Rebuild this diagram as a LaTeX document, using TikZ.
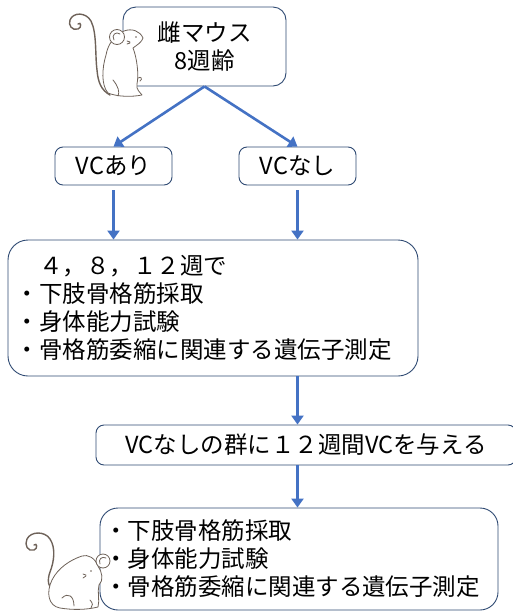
\documentclass[tikz,border=0pt]{standalone}
\usepackage{fontspec}
\setmainfont{Noto Sans CJK JP}
\usepackage{tikz}
\usetikzlibrary{positioning,arrows.meta}
\definecolor{flowblue}{HTML}{4472C4}
\definecolor{boxline}{HTML}{2F4A73}
\definecolor{mouseline}{HTML}{6E6259}
\newcommand\flowfont{\fontsize{23.5}{28}\selectfont}

\begin{document}
\begin{tikzpicture}[x=1pt, y=-1pt,
    stepbox/.style={draw=boxline, line width=0.9pt, fill=white, font=\flowfont, inner sep=0pt},
    flow/.style={draw=flowblue, line width=2.6pt, -{Triangle[length=9pt, width=12pt]}},
    sketch/.style={draw=mouseline, line width=0.8pt, fill=white, line join=round, line cap=round}]
    \useasboundingbox (0,0) rectangle (512,611);

    % boxes
    \node[stepbox, rounded corners=13pt, minimum width=163pt, minimum height=79pt, align=center] (mouse) at (204.5,46.5) {雌マウス\\8週齢};
    \node[stepbox, rounded corners=8pt, minimum width=117pt, minimum height=38pt] (ari) at (113.5,166) {VCあり};
    \node[stepbox, rounded corners=8pt, minimum width=117pt, minimum height=38pt] (nashi) at (297.5,166) {VCなし};
    \node[stepbox, rounded corners=20pt, minimum width=410pt, minimum height=136pt, inner xsep=8pt, text width=394pt, align=left] (test1) at (213,308)
        {　４，８，１２週で\\・下肢骨格筋採取\\・身体能力試験\\・骨格筋委縮に関連する遺伝子測定};
    \node[stepbox, rounded corners=8pt, minimum width=420pt, minimum height=40pt] (give) at (306,445) {VCなしの群に１２週間VCを与える};
    \node[stepbox, rounded corners=18pt, minimum width=398pt, minimum height=102pt, inner xsep=4pt, text width=390pt, align=left] (test2) at (299,559)
        {・下肢骨格筋採取\\・身体能力試験\\・骨格筋委縮に関連する遺伝子測定};

    % arrows
    \draw[flow] (mouse.south) -- (ari.north);
    \draw[flow] (mouse.south) -- (nashi.north);
    \draw[flow, shorten <=5pt] (ari.south) -- (ari.south |- test1.north);
    \draw[flow, shorten <=5pt] (nashi.south) -- (nashi.south |- test1.north);
    \draw[flow] (nashi.south |- test1.south) -- (nashi.south |- give.north);
    \draw[flow] (nashi.south |- give.south) -- (nashi.south |- test2.north);

    % sitting mouse
    \draw[mouseline, line width=1.4pt, line cap=round]
        (78,24) .. controls (81,21) and (82,28) .. (78,29)
        .. controls (72,31) and (68,25) .. (70,20)
        .. controls (73,12) and (86,12) .. (91,21)
        .. controls (97,33) and (95,55) .. (97,70)
        .. controls (98,82) and (101,90) .. (110,95);
    \filldraw[sketch] (143,38) .. controls (140,31) and (132,28) .. (124,31)
        .. controls (114,36) and (108,44) .. (106,55)
        .. controls (102,68) and (101,85) .. (108,93)
        .. controls (118,97) and (132,97) .. (142,95)
        .. controls (140,92) and (136,90) .. (137,84)
        .. controls (139,75) and (137,58) .. (133,48)
        .. controls (137,45) and (142,42) .. (143,38);
    \filldraw[sketch] (117,37) circle (7.5);
    \draw[sketch, fill=none] (114,40) .. controls (111,35) and (116,31) .. (120,34);
    \fill[mouseline] (136,37) circle (0.9);
    \draw[sketch, fill=none] (130,42) -- (127,41) (130,43) -- (127,44);
    \draw[sketch, fill=none] (138,78) .. controls (141,76) and (143,79) .. (140,81);
    \draw[sketch, fill=none] (113,80) .. controls (118,86) and (120,92) .. (118,96);

    % crouching mouse
    \draw[mouseline, line width=1.4pt, line cap=round]
        (34,545) .. controls (37,542) and (38,549) .. (34,550)
        .. controls (28,552) and (24,545) .. (27,539)
        .. controls (31,531) and (45,531) .. (50,539)
        .. controls (56,548) and (54,562) .. (50,572)
        .. controls (47,580) and (48,588) .. (54,591);
    \filldraw[sketch] (82,556) .. controls (70,560) and (58,568) .. (52,580)
        .. controls (46,592) and (48,606) .. (60,608)
        .. controls (72,610) and (86,610) .. (98,607)
        .. controls (100,600) and (97,592) .. (99,585)
        .. controls (104,580) and (102,572) .. (98,566)
        .. controls (95,558) and (88,554) .. (82,556);
    \filldraw[sketch] (103,561) circle (7);
    \draw[sketch, fill=none] (100,564) .. controls (98,559) and (102,556) .. (106,558);
    \fill[mouseline] (91,571) circle (0.9);
    \draw[sketch, fill=none] (86,575) -- (83,574) (86,576) -- (83,578);
    \draw[sketch, fill=none] (62,598) .. controls (68,592) and (74,596) .. (74,606);
    \draw[sketch, fill=none] (90,600) .. controls (93,603) and (93,606) .. (91,608);
\end{tikzpicture}
\end{document}
